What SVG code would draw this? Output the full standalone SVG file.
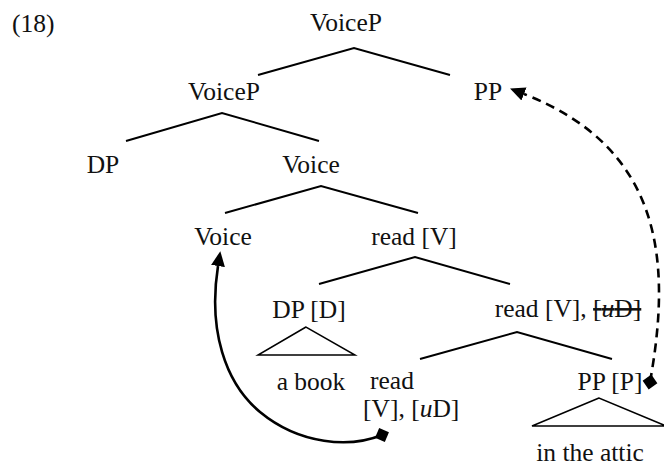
<svg xmlns="http://www.w3.org/2000/svg" width="664" height="466" viewBox="0 0 664 466">
<style>
text{font-family:"Liberation Serif","Times New Roman",serif;font-size:25.5px;fill:#111}
.e{stroke:#000;stroke-width:2;fill:none}
.tri{stroke:#000;stroke-width:1.5;fill:none}
.mv{stroke:#000;stroke-width:2.6;fill:none}
.dash{stroke-dasharray:9 6}
</style>
<defs>
<marker id="dia" markerUnits="userSpaceOnUse" viewBox="-8 -8 16 16" refX="0" refY="0" markerWidth="16" markerHeight="16" orient="auto">
<path d="M-7.5,0 L0,-7.5 L7.5,0 L0,7.5 Z" fill="#000"/>
</marker>
<marker id="arr" markerUnits="userSpaceOnUse" viewBox="0 0 15 14" refX="0" refY="7" markerWidth="15" markerHeight="14" orient="auto">
<path d="M0,0 L15,7 L0,14 Z" fill="#000"/>
</marker>
</defs>
<text x="12" y="32">(18)</text>
<g id="n-voicep-root"><text x="346" y="31" text-anchor="middle">VoiceP</text></g>
<g id="n-voicep"><text x="224" y="100" text-anchor="middle">VoiceP</text></g>
<g id="n-pp"><text x="488" y="100" text-anchor="middle">PP</text></g>
<g id="n-dp"><text x="103" y="173" text-anchor="middle">DP</text></g>
<g id="n-voice-bar"><text x="311" y="173" text-anchor="middle">Voice</text></g>
<g id="n-voice"><text x="223" y="245" text-anchor="middle">Voice</text></g>
<g id="n-readv"><text x="414" y="245" text-anchor="middle">read [V]</text></g>
<g id="n-dpd"><text x="309" y="318" text-anchor="middle">DP [D]</text>
<polygon class="tri" points="306,327 258,355 355,355"/>
<text x="311" y="390" text-anchor="middle">a book</text></g>
<g id="n-readv-ud"><text x="568" y="317" text-anchor="middle">read [V], <tspan text-decoration="line-through">[<tspan font-style="italic">u</tspan>D]</tspan></text></g>
<g id="n-read"><text x="370" y="389">read</text><text x="363" y="417">[V], [<tspan font-style="italic">u</tspan>D]</text></g>
<g id="n-ppp"><text x="610" y="390" text-anchor="middle">PP [P]</text>
<polygon class="tri" points="599,398 532,426 666,426"/>
<text x="590" y="461" text-anchor="middle">in the attic</text></g>
<g id="connectors">
<path class="e" d="M258,75 L354,48 L450,75"/>
<path class="e" d="M126,141 L222,113 L319,141"/>
<path class="e" d="M225,213 L321,186 L418,213"/>
<path class="e" d="M319,284 L415,257 L510,284"/>
<path class="e" d="M420,359 L517,332 L612,359"/>
<path class="mv dash" d="M650,382 C672,260 662,148 524,94" marker-start="url(#dia)" marker-end="url(#arr)"/>
<path class="mv" d="M382,435 C350,448 300,445 260,412 C225,383 208,330 218,266" marker-start="url(#dia)" marker-end="url(#arr)"/>
</g>
</svg>
